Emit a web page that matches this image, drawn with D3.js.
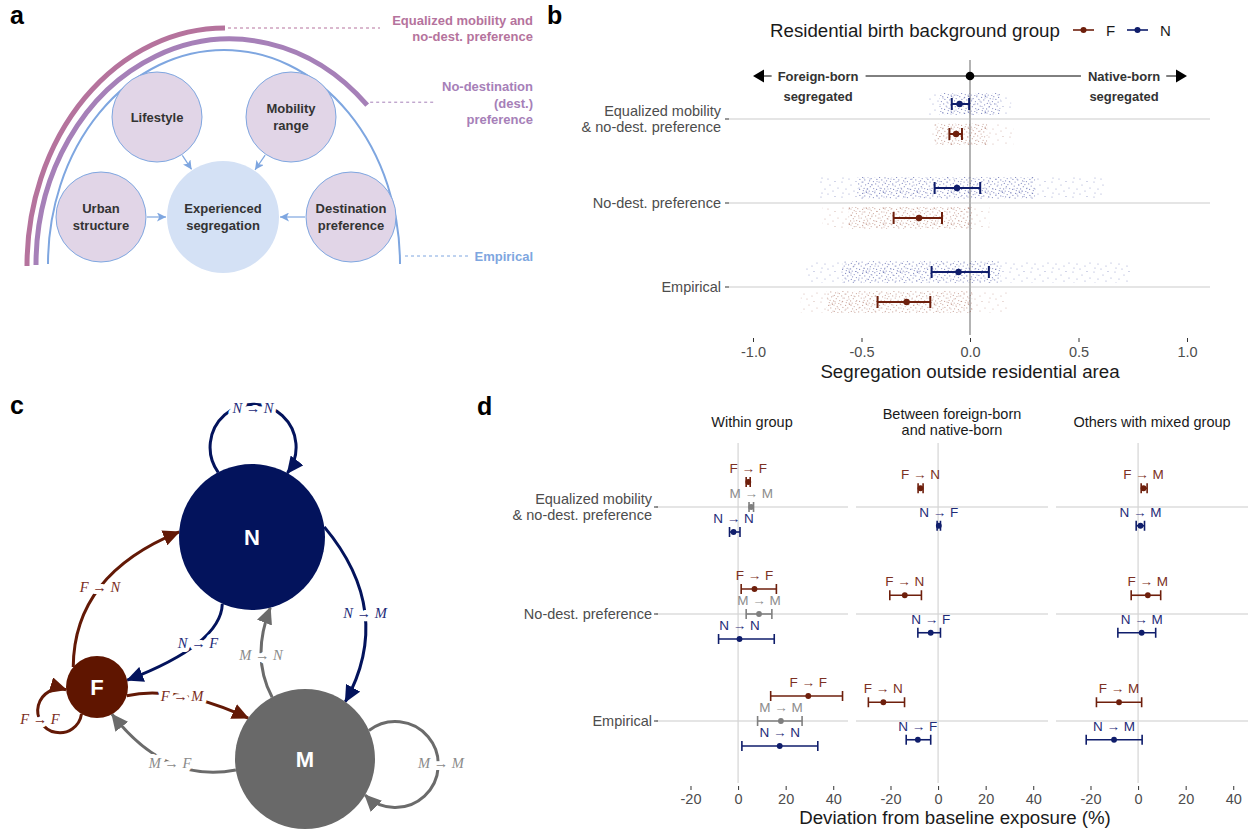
<!DOCTYPE html>
<meta charset="utf-8">
<style>
body { margin: 0; background: #fff; }
svg { font-family: 'Liberation Sans', Arial, sans-serif; }
.tag { font-size: 25px; font-weight: bold; fill: #000; }
.axis-text { font-size: 14.5px; fill: #4d4d4d; }
.axis-title { font-size: 18.7px; fill: #1a1a1a; }
.strip { font-size: 14.5px; fill: #1a1a1a; text-anchor: middle; }
.grid { stroke: #dcdcdc; stroke-width: 1.6; }
.factor { fill: #e1d5e7; stroke: #7ea6e0; stroke-width: 1; }
.atext { font-size: 13px; font-weight: bold; fill: #333; text-anchor: middle; }
.lead { font-size: 13px; font-weight: bold; text-anchor: end; }
.elabel { font-family: 'Liberation Serif', 'DejaVu Serif', serif; font-style: italic; font-size: 14.5px;
          text-anchor: middle; paint-order: stroke; stroke: #fff; stroke-width: 8px; stroke-linejoin: round; }
.dlabel { font-size: 13.5px; text-anchor: middle; }
</style>
<body>
<div id="fig"></div>
<script src="https://cdn.jsdelivr.net/npm/d3@7"></script>
<script>
// ---- panel a
var factors = ["Lifestyle", "Mobility\nrange", "Urban\nstructure", "Destination\npreference"];
var outcome = "Experienced\nsegregation";
var arcNames = ["Equalized mobility and\nno-dest. preference", "No-destination\n(dest.)\npreference", "Empirical"];

// ---- panel b
var scenarios = ["Equalized mobility\n& no-dest. preference", "No-dest. preference", "Empirical"];
var groups = ["N", "F"];
var meanN = [-0.048, -0.060, -0.053];
var lowN  = [-0.084, -0.163, -0.177];
var highN = [-0.004,  0.047,  0.087];
var meanF = [-0.064, -0.235, -0.292];
var lowF  = [-0.095, -0.352, -0.426];
var highF = [-0.037, -0.129, -0.183];
// spread of the simulation runs: dense part and full range
var coreN  = [[-0.14, 0.14], [-0.52, 0.30], [-0.59, 0.14]];
var rangeN = [[-0.19, 0.19], [-0.70, 0.62], [-0.76, 0.74]];
var coreF  = [[-0.16, 0.08], [-0.56, 0.01], [-0.66, 0.01]];
var rangeF = [[-0.18, 0.20], [-0.68, 0.09], [-0.78, 0.17]];
var bTicks = [-1, -0.5, 0, 0.5, 1];

// ---- panel c
var netNodes = ["N", "F", "M"];
var netEdges = [["N","N"], ["F","N"], ["N","F"], ["M","N"], ["N","M"], ["F","M"], ["M","F"], ["F","F"], ["M","M"]];

// ---- panel d
var facets = ["Within group", "Between foreign-born\nand native-born", "Others with mixed group"];
var facetSeries = [["F → F", "M → M", "N → N"], ["F → N", "N → F"], ["F → M", "N → M"]];
var meanFF = [4.3, 6.9, 29.5],    lowFF = [3.4, 1.3, 13.7],     highFF = [5.1, 16.1, 43.9];
var meanMM = [5.5, 8.8, 18.0],    lowMM = [4.6, 3.4, 8.2],      highMM = [6.5, 14.2, 26.9];
var meanNN = [-1.9, 0.6, 17.5],   lowNN = [-3.6, -8.2, 1.6],    highNN = [0.8, 15.2, 33.5];
var meanFN = [-7.4, -14.0, -23.0], lowFN = [-8.4, -20.3, -29.3], highFN = [-6.3, -7.0, -14.1];
var meanNF = [0.3, -3.1, -8.5],   lowNF = [-0.4, -8.5, -13.4],  highNF = [1.0, 1.0, -3.1];
var meanFM = [2.3, 4.1, -8.0],    lowFM = [1.3, -2.9, -17.5],   highFM = [3.8, 9.5, 1.5];
var meanNM = [1.0, 1.5, -10.1],   lowNM = [-0.8, -8.5, -21.8],  highNM = [2.7, 7.4, 1.7];
var dTicks = [-20, 0, 20, 40];

var colLine = {F: "#6e1f0c", N: "#0f1d6b", M: "#7f7f7f"};
var colText = {F: "#7b3023", N: "#1f2c78", M: "#8c8c8c"};

var svg = d3.select('#fig').append('svg')
    .attr('width', 1248).attr('height', 834);
var defs = svg.append('defs');

function lines(sel, str, x, cy, lh, cls) {
  var parts = str.split("\n");
  var t = sel.append('text').attr('class', cls).attr('x', x).attr('y', cy - (parts.length - 1) * lh / 2);
  parts.forEach(function(p, i) {
    t.append('tspan').attr('x', x).attr('dy', i === 0 ? '0.35em' : lh).text(p);
  });
  return t;
}

svg.append('text').attr('class', 'tag').attr('x', 10).attr('y', 24).text('a');
svg.append('text').attr('class', 'tag').attr('x', 547).attr('y', 24).text('b');
svg.append('text').attr('class', 'tag').attr('x', 10).attr('y', 414).text('c');
svg.append('text').attr('class', 'tag').attr('x', 477).attr('y', 415).text('d');

// =================== panel a ===================
var ga = svg.append('g');
var arcStyle = [
  {cx: 225, cy: 266, rx: 198, ry: 238, a0: 180, a1: 90, w: 5, col: "#b5739d", lx1: 380, tx: 533, ty: 28.5},
  {cx: 230, cy: 265, rx: 194, ry: 226, a0: 180, a1: 45, w: 5, col: "#a680b8", lx1: 436, tx: 533, ty: 103},
  {cx: 224, cy: 264, rx: 176, ry: 214, a0: 180, a1: 0, w: 2, col: "#7ea6e0", lx1: 468, tx: 533, ty: 256}
];
function ell(s, a) {
  var r = a * Math.PI / 180;
  return [s.cx + s.rx * Math.cos(r), s.cy - s.ry * Math.sin(r)];
}
arcNames.forEach(function(name, i) {
  var s = arcStyle[i];
  var p0 = ell(s, s.a0), p1 = ell(s, s.a1);
  ga.append('path')
    .attr('d', 'M' + p0 + ' A' + s.rx + ',' + s.ry + ' 0 0 1 ' + p1)
    .attr('fill', 'none').attr('stroke', s.col).attr('stroke-width', s.w);
  var start = i === 2 ? [405, 256] : [p1[0] + 3, p1[1] - (i === 1 ? 3 : 0)];
  ga.append('line')
    .attr('x1', start[0]).attr('y1', start[1]).attr('x2', s.lx1).attr('y2', start[1])
    .attr('stroke', s.col).attr('stroke-dasharray', '3,3');
  lines(ga, name, s.tx, s.ty, 16.5, 'lead').attr('fill', s.col);
});

defs.append('marker').attr('id', 'arrA')
    .attr('viewBox', '0 -4 8 8').attr('refX', 8).attr('refY', 0)
    .attr('markerUnits', 'userSpaceOnUse').attr('markerWidth', 9).attr('markerHeight', 9)
    .attr('orient', 'auto')
  .append('path').attr('d', 'M0,-4L8,0L0,4L2,0Z').attr('fill', '#7ea6e0');

var factorPos = [[157, 117], [291, 117], [101, 217], [351, 217]];
var outPos = [223, 217], rF = 45, rO = 56;
ga.append('circle').attr('cx', outPos[0]).attr('cy', outPos[1]).attr('r', rO).attr('fill', '#d4e1f5');
lines(ga, outcome, outPos[0], outPos[1], 17, 'atext');
factors.forEach(function(f, i) {
  var p = factorPos[i];
  ga.append('circle').attr('class', 'factor').attr('cx', p[0]).attr('cy', p[1]).attr('r', rF);
  lines(ga, f, p[0], p[1], 17, 'atext');
  var ang = Math.atan2(outPos[1] - p[1], outPos[0] - p[0]);
  ga.append('line')
    .attr('x1', p[0] + (rF + 1) * Math.cos(ang)).attr('y1', p[1] + (rF + 1) * Math.sin(ang))
    .attr('x2', outPos[0] - (rO + 1) * Math.cos(ang)).attr('y2', outPos[1] - (rO + 1) * Math.sin(ang))
    .attr('stroke', '#7ea6e0').attr('stroke-width', 1.2).attr('marker-end', 'url(#arrA)');
});

// =================== panel b ===================
var gb = svg.append('g');
var xB = d3.scaleLinear().domain([-1, 1]).range([753, 1187]);
var yB = d3.scalePoint().domain(scenarios).range([119, 287]);
var offB = d3.scalePoint().domain(groups).range([-15, 15]);
var bLeft = 729, bRight = 1210;

// dot textures for the run clouds
function dotPattern(id, col, w, h, pts, op) {
  var p = defs.append('pattern').attr('id', id).attr('patternUnits', 'userSpaceOnUse')
    .attr('width', w).attr('height', h);
  pts.forEach(function(d) {
    p.append('circle').attr('cx', d[0]).attr('cy', d[1]).attr('r', 0.6).attr('fill', col).attr('fill-opacity', op);
  });
}
var densePts = [[1,1],[4.2,2.6],[7.8,0.7],[2.6,4.8],[6.4,5.6],[9.9,3.4],[1.3,7.4],[4.9,8.6],[8.7,7.9],
                [12.1,6.1],[12.6,1.4],[3.3,10.7],[11.2,10.1],[14.8,3.9],[15.6,8.8],[14.1,12.3],
                [6.7,12.6],[0.6,12.9],[9.6,13.4],[16.4,0.4],[13.3,14.6],[2.2,15.1],[5.8,15.7],[16.2,15.2]];
var sparsePts = [[2,2],[11,5],[6,9],[16,1.5],[19,8],[14,11],[9,14],[3,13]];
dotPattern('denseN', '#33409a', 17, 16, densePts, 0.6);
dotPattern('sparseN', '#33409a', 21, 15, sparsePts, 0.5);
dotPattern('denseF', '#97503c', 17, 16, densePts, 0.5);
dotPattern('sparseF', '#97503c', 21, 15, sparsePts, 0.45);

scenarios.forEach(function(s) {
  gb.append('line').attr('class', 'grid')
    .attr('x1', bLeft).attr('x2', bRight).attr('y1', yB(s)).attr('y2', yB(s));
});
gb.append('line').attr('x1', xB(0)).attr('x2', xB(0)).attr('y1', 60).attr('y2', 335)
  .attr('stroke', '#b3b3b3').attr('stroke-width', 2);

var bData = [];
scenarios.forEach(function(s, i) {
  bData.push({s: s, g: "N", m: meanN[i], lo: lowN[i], hi: highN[i], core: coreN[i], range: rangeN[i]});
  bData.push({s: s, g: "F", m: meanF[i], lo: lowF[i], hi: highF[i], core: coreF[i], range: rangeF[i]});
});

bData.forEach(function(d) {
  var y = yB(d.s) + offB(d.g);
  gb.append('rect').attr('x', xB(d.range[0])).attr('width', xB(d.range[1]) - xB(d.range[0]))
    .attr('y', y - 11).attr('height', 22).attr('fill', 'url(#sparse' + d.g + ')');
  gb.append('rect').attr('x', xB(d.core[0])).attr('width', xB(d.core[1]) - xB(d.core[0]))
    .attr('y', y - 11).attr('height', 22).attr('fill', 'url(#dense' + d.g + ')');
});
bData.forEach(function(d) {
  var y = yB(d.s) + offB(d.g), c = colLine[d.g];
  gb.append('line').attr('x1', xB(d.lo)).attr('x2', xB(d.hi)).attr('y1', y).attr('y2', y)
    .attr('stroke', c).attr('stroke-width', 2);
  [d.lo, d.hi].forEach(function(v) {
    gb.append('line').attr('x1', xB(v)).attr('x2', xB(v)).attr('y1', y - 6).attr('y2', y + 6)
      .attr('stroke', c).attr('stroke-width', 2);
  });
  gb.append('circle').attr('cx', xB(d.m)).attr('cy', y).attr('r', 3.2).attr('fill', c);
});

// y axis
scenarios.forEach(function(s) {
  lines(gb, s, 721, yB(s), 16, 'axis-text').attr('text-anchor', 'end');
  gb.append('line').attr('x1', 725).attr('x2', 729).attr('y1', yB(s)).attr('y2', yB(s))
    .attr('stroke', '#333').attr('stroke-width', 1);
});
// x axis
var axB = gb.append('g').attr('transform', 'translate(0,338)')
  .call(d3.axisBottom(xB).tickValues(bTicks).tickFormat(d3.format('.1f')).tickSize(4).tickSizeOuter(0));
axB.select('.domain').remove();
axB.selectAll('.tick line').attr('stroke', '#333');
axB.selectAll('.tick text').attr('class', 'axis-text').attr('fill', null).attr('font-family', null)
  .attr('font-size', null).attr('y', 9).attr('dy', '0.71em')
  .text(function(d) { return d3.format('.1f')(d).replace('−', '-'); });
gb.append('text').attr('class', 'axis-title').attr('x', xB(0)).attr('y', 378)
  .attr('text-anchor', 'middle').text('Segregation outside residential area');

// legend
gb.append('text').attr('class', 'axis-title').attr('x', 770).attr('y', 36.5).text('Residential birth background group');
[["F", 1073], ["N", 1127]].forEach(function(k) {
  gb.append('line').attr('x1', k[1]).attr('x2', k[1] + 21).attr('y1', 30).attr('y2', 30)
    .attr('stroke', colLine[k[0]]).attr('stroke-width', 1.6);
  gb.append('circle').attr('cx', k[1] + 10.5).attr('cy', 30).attr('r', 3).attr('fill', colLine[k[0]]);
  gb.append('text').attr('x', k[1] + 33).attr('y', 36).attr('font-size', 15).attr('fill', '#1a1a1a').text(k[0]);
});

// direction annotation
var ay = 76;
var tLeft = lines(gb, "Foreign-born\nsegregated", xB(-0.70), 86, 20, 'atext').attr('fill', '#000');
var tRight = lines(gb, "Native-born\nsegregated", xB(0.71), 86, 20, 'atext').attr('fill', '#000');
var bl = tLeft.node().getBBox(), br = tRight.node().getBBox();
gb.append('line').attr('x1', bl.x + bl.width + 7).attr('x2', br.x - 7).attr('y1', ay).attr('y2', ay).attr('stroke', '#000');
gb.append('line').attr('x1', xB(-1) + 8).attr('x2', bl.x - 6).attr('y1', ay).attr('y2', ay).attr('stroke', '#000');
gb.append('line').attr('x1', br.x + br.width + 6).attr('x2', xB(1) - 8).attr('y1', ay).attr('y2', ay).attr('stroke', '#000');
gb.append('path').attr('d', 'M' + xB(-1) + ',' + ay + 'l11,-6.5v13z').attr('fill', '#000');
gb.append('path').attr('d', 'M' + xB(1) + ',' + ay + 'l-11,-6.5v13z').attr('fill', '#000');
gb.append('circle').attr('cx', xB(0)).attr('cy', ay).attr('r', 4.3).attr('fill', '#000');

// =================== panel c ===================
var gc = svg.append('g');
var nodeLayout = {N: {x: 252, y: 537, r: 73, fill: "#03135c"},
                  F: {x: 97, y: 687, r: 31, fill: "#5f1500"},
                  M: {x: 305, y: 759, r: 70, fill: "#696969"}};
var edgeLayout = {
  "N-N": {a0: -117.6, a1: -61, loop: 43, lx: 253, ly: 408},
  "F-N": {a0: -140, a1: -176, lx: 100, ly: 587},
  "N-F": {a0: 114, a1: -12.8, lx: 198, ly: 643},
  "M-N": {a0: -118, a1: 75.5, lx: 261, ly: 655},
  "N-M": {a0: -8, a1: -54.8, lx: 365, ly: 613},
  "F-M": {a0: 16.3, a1: -144.3, lx: 182, ly: 696},
  "M-F": {a0: 171, a1: 61.2, lx: 170, ly: 763},
  "F-F": {a0: 120, a1: 175, loop: 22, lx: 40, ly: 719},
  "M-M": {a0: -24, a1: 31, loop: 43, lx: 441, ly: 763}
};
var edgeCol = {F: "#631906", N: "#03135c", M: "#6b6b6b"};
var edgeText = {F: "#7a2b1a", N: "#1c2a78", M: "#8a8a8a"};

netNodes.forEach(function(n) {
  defs.append('marker').attr('id', 'arr' + n)
      .attr('viewBox', '0 -8 17 16').attr('refX', 16).attr('refY', 0)
      .attr('markerUnits', 'userSpaceOnUse').attr('markerWidth', 17).attr('markerHeight', 16)
      .attr('orient', 'auto')
    .append('path').attr('d', 'M0,-8L17,0L0,8Z').attr('fill', edgeCol[n]);
});

function onNode(n, a) {
  var L = nodeLayout[n], r = a * Math.PI / 180;
  return [L.x + L.r * Math.cos(r), L.y + L.r * Math.sin(r)];
}
netEdges.forEach(function(e) {
  var k = e[0] + '-' + e[1], L = edgeLayout[k];
  var p0 = onNode(e[0], L.a0), p2 = onNode(e[1], L.a1), d;
  if (L.loop) {
    d = 'M' + p0 + ' A' + L.loop + ',' + L.loop + ' 0 1 1 ' + p2;
  } else {
    var c = [2 * L.lx - (p0[0] + p2[0]) / 2, 2 * L.ly - (p0[1] + p2[1]) / 2];
    d = 'M' + p0 + ' Q' + c + ' ' + p2;
  }
  gc.append('path').attr('d', d).attr('fill', 'none')
    .attr('stroke', edgeCol[e[0]]).attr('stroke-width', 3)
    .attr('marker-end', 'url(#arr' + e[0] + ')');
});
netNodes.forEach(function(n) {
  var L = nodeLayout[n];
  gc.append('circle').attr('cx', L.x).attr('cy', L.y).attr('r', L.r).attr('fill', L.fill);
  gc.append('text').attr('x', L.x).attr('y', L.y).attr('dy', '0.36em').attr('text-anchor', 'middle')
    .attr('fill', '#fff').attr('font-weight', 'bold').attr('font-size', 22).text(n);
});
netEdges.forEach(function(e) {
  var L = edgeLayout[e[0] + '-' + e[1]];
  gc.append('text').attr('class', 'elabel').attr('x', L.lx).attr('y', L.ly).attr('dy', '0.35em')
    .attr('fill', edgeText[e[0]]).text(e[0] + ' → ' + e[1]);
});

// =================== panel d ===================
var gd = svg.append('g');
var facetLeft = [656, 856, 1056], facetW = 192;
var yD = d3.scalePoint().domain(scenarios).range([507, 721]);
var seriesVals = {
  "F → F": [meanFF, lowFF, highFF], "M → M": [meanMM, lowMM, highMM], "N → N": [meanNN, lowNN, highNN],
  "F → N": [meanFN, lowFN, highFN], "N → F": [meanNF, lowNF, highNF],
  "F → M": [meanFM, lowFM, highFM], "N → M": [meanNM, lowNM, highNM]
};

facets.forEach(function(f, fi) {
  var xD = d3.scaleLinear().domain([-34.5, 46.2]).range([facetLeft[fi], facetLeft[fi] + facetW]);
  var dodge = d3.scaleBand().domain(facetSeries[fi]).range([-37.5, 37.5]);
  var g = gd.append('g');
  scenarios.forEach(function(s) {
    g.append('line').attr('class', 'grid').attr('x1', facetLeft[fi]).attr('x2', facetLeft[fi] + facetW)
      .attr('y1', yD(s)).attr('y2', yD(s));
  });
  g.append('line').attr('x1', xD(0)).attr('x2', xD(0)).attr('y1', 443).attr('y2', 783)
    .attr('stroke', '#d4d4d4').attr('stroke-width', 1.2);
  lines(g, f, facetLeft[fi] + facetW / 2, 422, 16, 'strip');

  facetSeries[fi].forEach(function(name) {
    var src = name.charAt(0), v = seriesVals[name];
    scenarios.forEach(function(s, si) {
      var y = yD(s) + dodge(name) + dodge.bandwidth() / 2;
      var m = v[0][si], lo = v[1][si], hi = v[2][si];
      g.append('line').attr('x1', xD(lo)).attr('x2', xD(hi)).attr('y1', y).attr('y2', y)
        .attr('stroke', colLine[src]).attr('stroke-width', 1.6);
      [lo, hi].forEach(function(b) {
        g.append('line').attr('x1', xD(b)).attr('x2', xD(b)).attr('y1', y - 5).attr('y2', y + 5)
          .attr('stroke', colLine[src]).attr('stroke-width', 1.6);
      });
      g.append('circle').attr('cx', xD(m)).attr('cy', y).attr('r', 2.9).attr('fill', colLine[src]);
      g.append('text').attr('class', 'dlabel').attr('x', xD(m)).attr('y', y - 9)
        .attr('fill', colText[src]).text(name);
    });
  });

  var ax = g.append('g').attr('transform', 'translate(0,786)')
    .call(d3.axisBottom(xD).tickValues(dTicks).tickSize(4).tickSizeOuter(0));
  ax.select('.domain').remove();
  ax.selectAll('.tick line').attr('stroke', '#333');
  ax.selectAll('.tick text').attr('class', 'axis-text').attr('fill', null).attr('font-family', null)
    .attr('font-size', null).attr('y', 8).attr('dy', '0.71em')
    .text(function(d) { return String(d); });
});
scenarios.forEach(function(s) {
  lines(gd, s, 652, yD(s), 16, 'axis-text').attr('text-anchor', 'end');
  gd.append('line').attr('x1', 654).attr('x2', 658).attr('y1', yD(s)).attr('y2', yD(s))
    .attr('stroke', '#333');
});
gd.append('text').attr('class', 'axis-title').attr('x', 955).attr('y', 824)
  .attr('text-anchor', 'middle').text('Deviation from baseline exposure (%)');
</script>
</body>
